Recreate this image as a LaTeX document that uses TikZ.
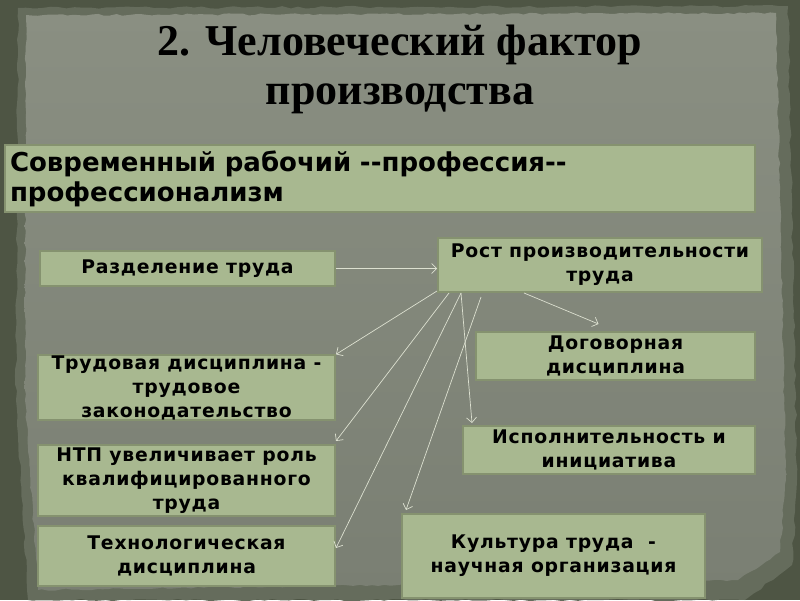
\documentclass[tikz,border=0pt]{standalone}
\usepackage{fontspec}
\usetikzlibrary{positioning}
\usetikzlibrary{arrows.meta}
\usetikzlibrary{decorations.pathmorphing}
\newfontfamily\titlefont{Liberation Serif}
\newfontfamily\boxfont{DejaVu Sans}[LetterSpace=4]
\newfontfamily\headfont{DejaVu Sans}
\definecolor{framegreen}{HTML}{4E5544}
\definecolor{paperedge}{HTML}{656C5C}
\definecolor{paper}{HTML}{7A7F73}
\definecolor{paperlight}{HTML}{8A8F82}
\definecolor{boxgreen}{HTML}{A8B890}
\definecolor{boxedge}{HTML}{85926F}
\definecolor{arrowgrey}{HTML}{DCE0D0}

\begin{document}
\begin{tikzpicture}[x=1pt,y=-1pt,
		box/.style={fill=boxgreen, draw=boxedge, line width=2pt, inner sep=0pt, align=center,
			font=\boxfont\bfseries\fontsize{18.8}{24}\selectfont},
		link/.style={draw=arrowgrey, line width=0.7pt, -{Straight Barb[length=5pt,width=10pt]}}]
				\useasboundingbox (0,0) rectangle (800,600);
				\pgfmathsetseed{7}
				
				%Paper
				\fill[framegreen] (0,0) rectangle (800,600);
				\fill[paperedge, decorate, decoration={random steps,segment length=8pt,amplitude=1.2pt}]
					(18,8) -- (788,6) -- (797,480) -- (792,565) -- (745,600) -- (28,600) -- (16,400) -- cycle;
				\shade[top color=paperlight, bottom color=paper, decorate, decoration={random steps,segment length=6pt,amplitude=1pt}]
					(26,15) -- (776,13) -- (786,480) -- (780,552) -- (738,580) -- (38,590) -- (25,400) -- cycle;
				
				%Nodes
				\node[anchor=base, font=\titlefont\bfseries\fontsize{44}{49}\selectfont] (title1) at (400,55) {2. Человеческий фактор};
				\node[anchor=base, font=\titlefont\bfseries\fontsize{44}{49}\selectfont] (title2) at (400,104) {производства};
				
				\node[box, align=left, text width=740pt, minimum width=750pt, minimum height=67pt,
					font=\headfont\bfseries\fontsize{26}{30}\selectfont] (worker) at (380,178.5)
					{Современный рабочий --профессия--\\профессионализм};
				
				\node[box, minimum width=295pt, minimum height=35pt] (razd) at (187.5,268.5) {Разделение труда};
				\node[box, minimum width=324pt, minimum height=54pt] (rost) at (600,265) {Рост производительности\\труда};
				\node[box, minimum width=279pt, minimum height=48pt] (dog) at (615.5,356) {Договорная\\дисциплина};
				\node[box, minimum width=297pt, minimum height=61pt] (trud) at (186.5,387.5) {Трудовая дисциплина -\\трудовое\\законодательство};
				\node[box, minimum width=292pt, minimum height=48pt] (isp) at (609,450) {Исполнительность и\\инициатива};
				\node[box, minimum width=297pt, minimum height=71pt] (ntp) at (186.5,480.5) {НТП увеличивает роль\\квалифицированного\\труда};
				\node[box, minimum width=297pt, minimum height=60pt] (tech) at (186.5,556) {Технологическая\\дисциплина};
				\node[box, minimum width=303pt, minimum height=84pt] (kult) at (553.5,556) {Культура труда~~-\\научная организация};
				
				%Lines
				\draw[link] (razd.east) -- (razd.east -| rost.west);
				\draw[link] ([xshift=87pt]rost.south west) -- ([xshift=-17pt,yshift=7pt]dog.north);
				\draw[link] ([yshift=2pt]rost.south west) -- (trud.north east);
				\draw[link] ([xshift=12pt]rost.south west) -- ([yshift=3pt]ntp.north east);
				\draw[link] ([xshift=24pt]rost.south west) -- ([yshift=8pt]tech.east);
				\draw[link] ([xshift=24pt]rost.south west) -- ([xshift=10pt,yshift=2pt]isp.north west);
				\draw[link] ([xshift=44pt,yshift=-4pt]rost.south west) -- ([xshift=5pt,yshift=3pt]kult.north west);
		\end{tikzpicture}
\end{document}
